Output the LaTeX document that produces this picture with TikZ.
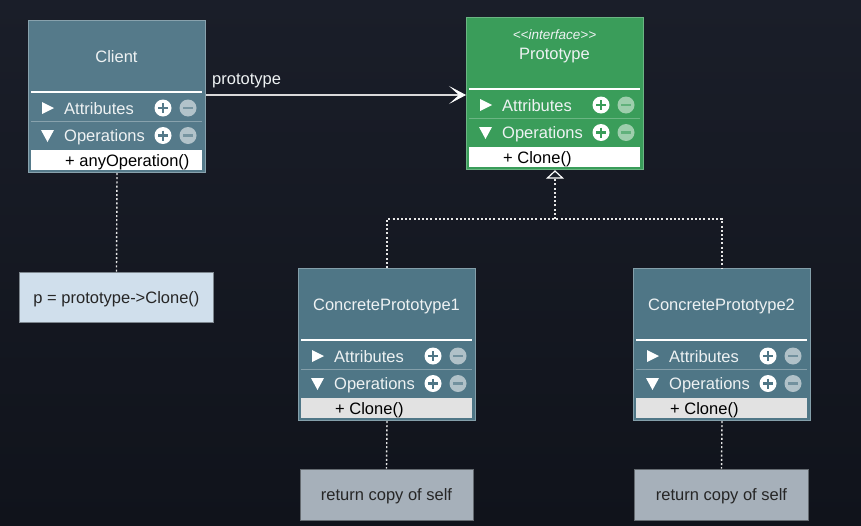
\documentclass[tikz,border=0pt]{standalone}
\usepackage{fontspec}
\setmainfont{Liberation Sans}
\usetikzlibrary{arrows.meta,calc}
\definecolor{bgtop}{HTML}{1A1E29}
\definecolor{bgbot}{HTML}{10131B}
\definecolor{clientfill}{HTML}{557A8A}
\definecolor{protofill}{HTML}{3A9D5A}
\definecolor{concfill}{HTML}{4F7686}
\definecolor{headtext}{HTML}{EEF2F3}
\definecolor{notefill}{HTML}{D0DFEC}
\definecolor{retfill}{HTML}{A6B0BA}
\definecolor{methgray}{HTML}{E2E2E2}
\definecolor{dotcol}{HTML}{E6E6E6}
\tikzset{
  classbox/.style={minimum width=177pt, minimum height=152pt, anchor=north west, inner sep=0pt, line width=1pt},
  titletext/.style={text=headtext, font=\fontsize{16.5}{19}\selectfont, inner sep=0pt, anchor=base},
  rowtext/.style={text=headtext, font=\fontsize{16.5}{19}\selectfont, anchor=base west, inner sep=0pt},
  methtext/.style={text=black, font=\fontsize{16.5}{19}\selectfont, anchor=base west, inner sep=0pt},
  textbox/.style={draw=#1!60!black, line width=0.8pt, text=black!85, font=\fontsize{16.5}{19}\selectfont, inner sep=0pt, text height=12pt, text depth=0pt},
  dotline/.style={draw=dotcol, line width=1.4pt, dash pattern=on 2pt off 2.2pt},
  assoc/.style={draw=white!85!black, line width=1.6pt, -{Stealth[length=17pt,width=18pt,inset=10pt,line width=0.8pt,color=white,fill=white]}},
}
% #1 name, #2 x, #3 y, #4 title content, #5 method fill, #6 method text
\newcommand\umlclassbox[6]{%
  \node[classbox, fill=boxfill, draw=boxborder] (#1) at (#2,#3) {};
  \node[titletext] (#1-title) at (#2+88.5,#3+42.5) {#4};
  \draw[white, line width=2.2pt] (#2+3,#3+72) -- (#2+174,#3+72);
  \draw[boxborder, line width=0.6pt] (#2+3,#3+101.5) -- (#2+174,#3+101.5);
  \fill[white] (#2+14,#3+82) -- (#2+26,#3+88) -- (#2+14,#3+94) -- cycle;
  \fill[white] (#2+13,#3+110) -- (#2+26,#3+110) -- (#2+19.5,#3+122) -- cycle;
  \node[rowtext] (#1-attr) at (#2+36,#3+94) {Attributes};
  \node[rowtext] (#1-ops) at (#2+36,#3+121.5) {Operations};
  \foreach \yy in {88,115.5}{
    \fill[white] (#2+135,#3+\yy) circle (8.5pt);
    \draw[boxfill, line width=2.4pt] (#2+130,#3+\yy) -- (#2+140,#3+\yy) (#2+135,#3+\yy-5) -- (#2+135,#3+\yy+5);
    \fill[minusfill] (#2+160,#3+\yy) circle (8.5pt);
    \draw[boxfill!80!white, line width=2.4pt] (#2+155,#3+\yy) -- (#2+165,#3+\yy);
  }
  \fill[#5] (#2+3,#3+129.5) rectangle (#2+174,#3+150);
  \node[methtext] (#1-meth) at (#2+37,#3+146.5) {#6};
}
\begin{document}
\begin{tikzpicture}[x=1pt,y=-1pt]
\shade[top color=bgtop, bottom color=bgbot] (0,0) rectangle (861,525);
\useasboundingbox (0,0) rectangle (861,525);

\colorlet{boxfill}{clientfill}\colorlet{boxborder}{clientfill!70!white}\colorlet{minusfill}{clientfill!45!white}
\umlclassbox{client}{28}{20}{Client}{white}{+ anyOperation()}

\colorlet{boxfill}{protofill}\colorlet{boxborder}{protofill!75!white}\colorlet{minusfill}{protofill!50!white}
\umlclassbox{proto}{466}{17}{Prototype}{white}{+ Clone()}
\node[text=headtext, font=\fontsize{13.5}{16}\selectfont\itshape, inner sep=0pt, anchor=base] (proto-st) at (554.5,39) {<{}<interface>{}>};

\colorlet{boxfill}{concfill}\colorlet{boxborder}{concfill!70!white}\colorlet{minusfill}{concfill!45!white}
\umlclassbox{cp1}{298}{268}{ConcretePrototype1}{methgray}{+ Clone()}
\umlclassbox{cp2}{633}{268}{ConcretePrototype2}{methgray}{+ Clone()}

\node[textbox=notefill, fill=notefill, minimum width=194pt, minimum height=50pt] (note) at (116.5,297) {p = prototype->Clone()};
\node[textbox=retfill, fill=retfill, minimum width=173pt, minimum height=51pt] (ret1) at (386.5,494.5) {return copy of self};
\node[textbox=retfill, fill=retfill, minimum width=174pt, minimum height=51pt] (ret2) at (721.5,494.5) {return copy of self};

% association
\coordinate (a1) at ($(client.east)+(0,-1.5)$);
\draw[assoc] (a1) -- (a1 -| proto.west);
\node[text=headtext, font=\fontsize{16.5}{19}\selectfont, anchor=base west, inner sep=0pt] (assoclbl) at (212,84) {prototype};

% inheritance
\coordinate (j) at ($(proto.south)+(0,49)$);
\draw[dotline] (cp1.north) |- (j) -| (cp2.north);
\draw[dotline] (j) -- ($(proto.south)+(0,8)$);
\draw[draw=white, line width=1.2pt, fill=bgtop] ($(proto.south)+(0,1)$) -- ($(proto.south)+(-7.5,8)$) -- ($(proto.south)+(7.5,8)$) -- cycle;

% note links
\draw[dotline] (client.south) -- (note.north);
\draw[dotline] (cp1.south) -- (ret1.north);
\draw[dotline] (cp2.south) -- (ret2.north);
\end{tikzpicture}
\end{document}
